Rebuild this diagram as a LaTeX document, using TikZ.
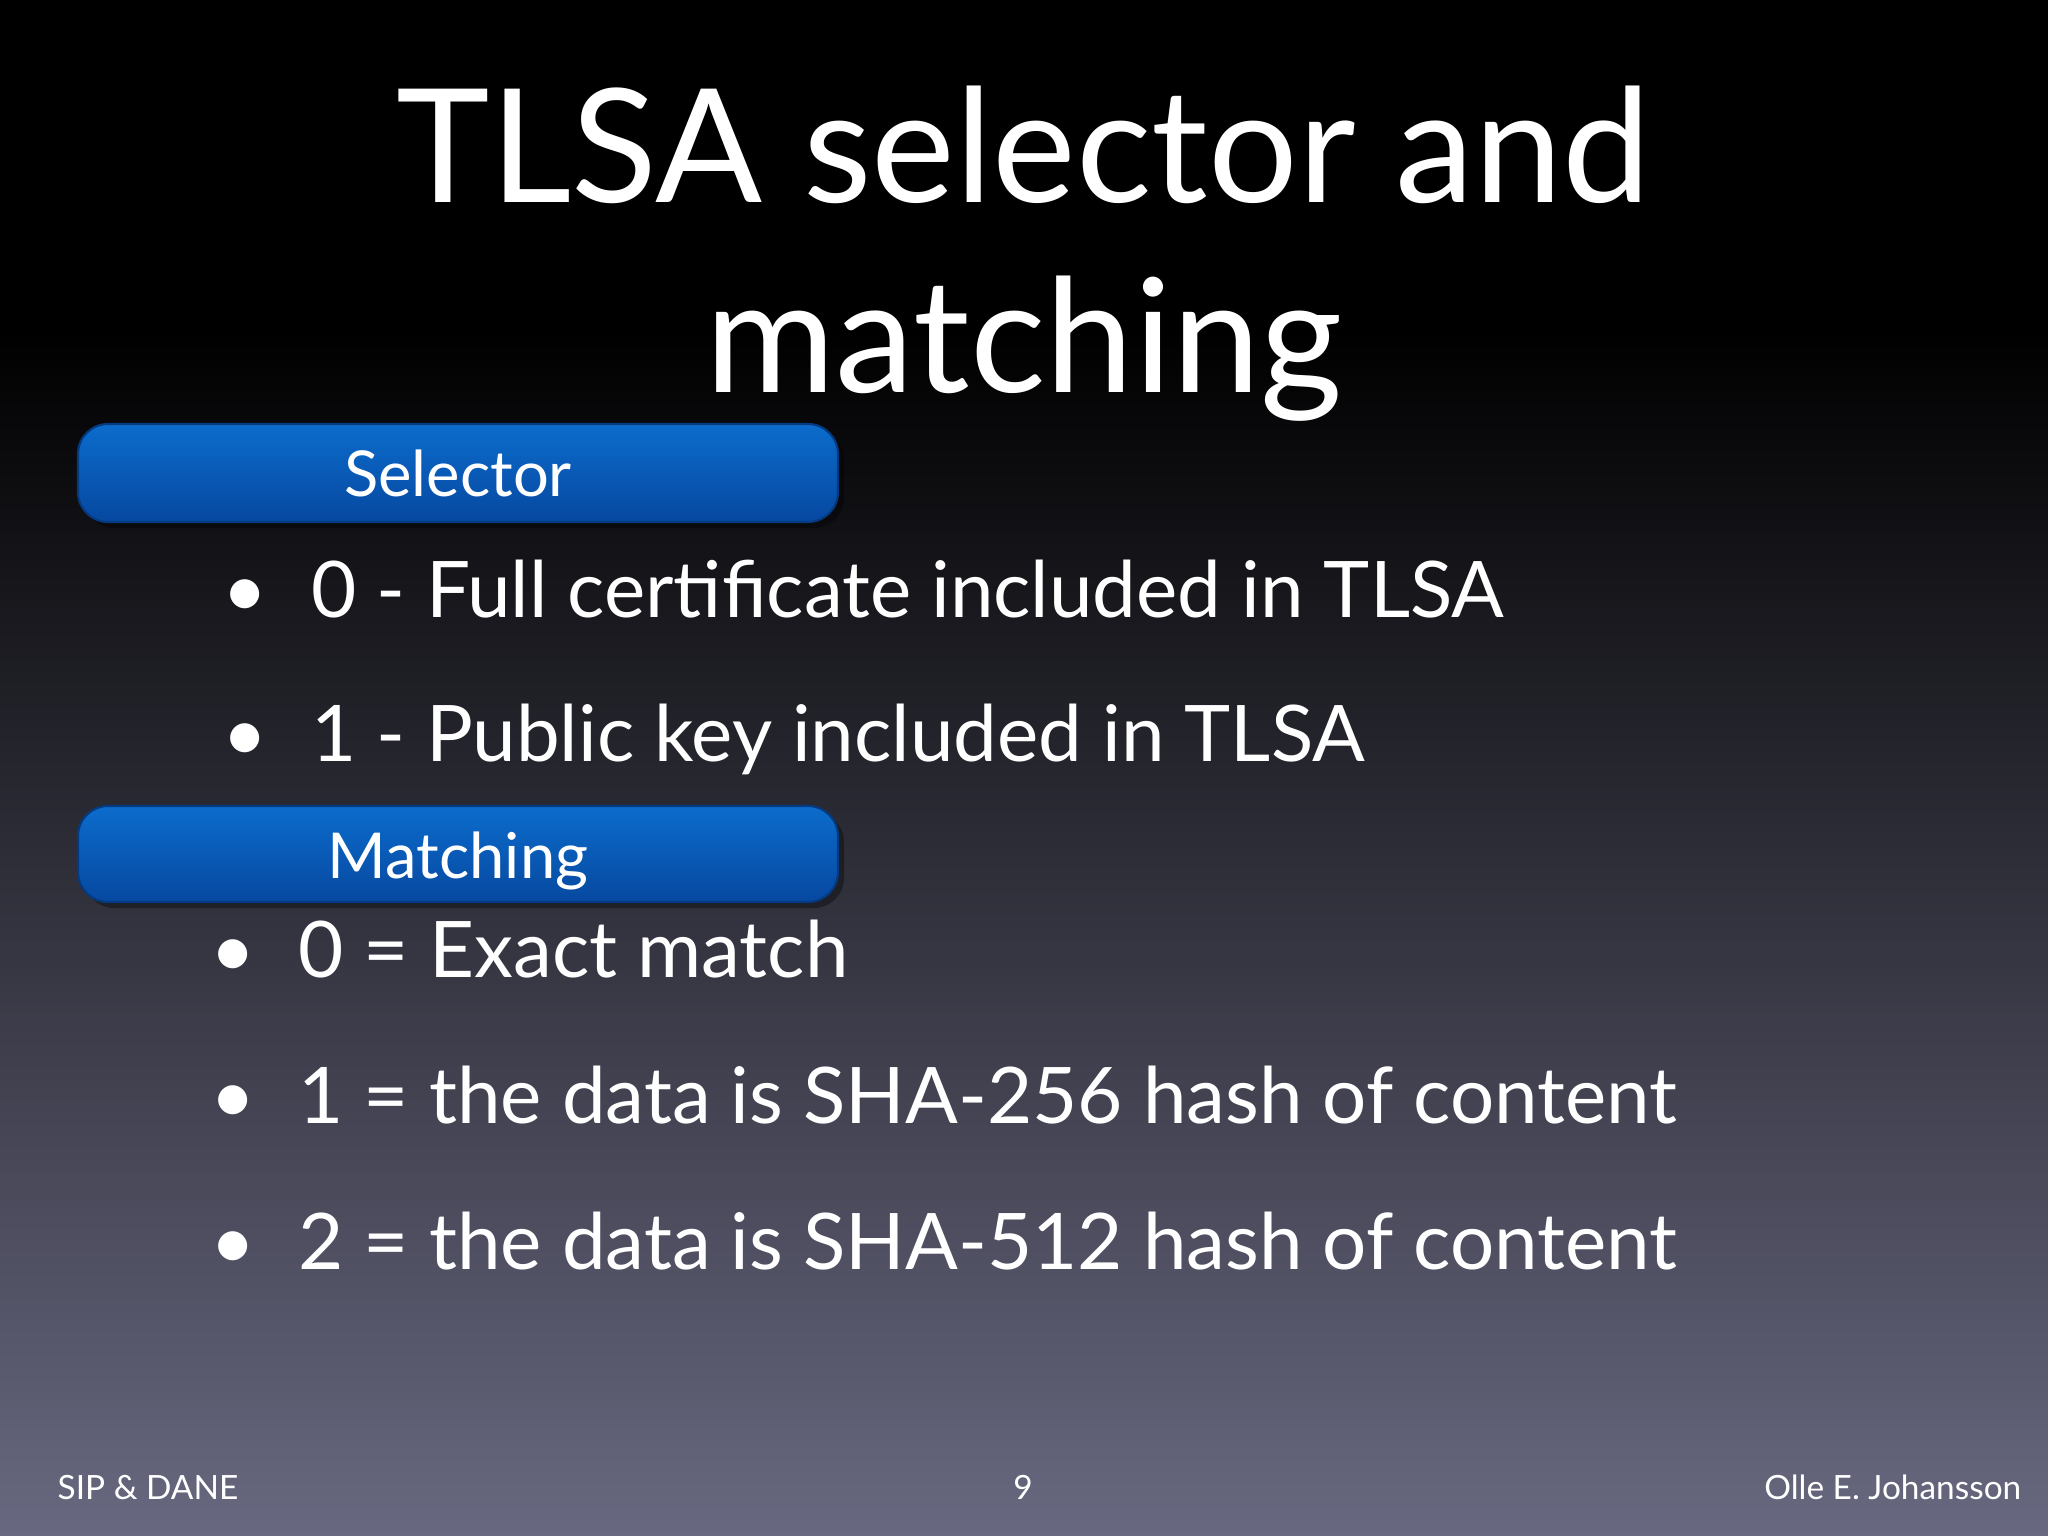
\documentclass[tikz,border=0pt]{standalone}
\usepackage{fontspec}
\setmainfont{Lato}
\definecolor{btop}{RGB}{12,108,204}
\definecolor{bbot}{RGB}{6,72,160}
\begin{document}
\begin{tikzpicture}[x=0.01cm,y=-0.01cm,
  txt/.style={text=white,inner sep=0pt,anchor=base west},
  bul/.style={txt,font=\fontsize{22.2}{26}\selectfont},
  hdr/.style={rounded corners=0.3cm,top color=btop,bottom color=bbot,draw=bbot!80!black,line width=0.6pt},
  foot/.style={text=white,inner sep=0pt,anchor=base,font=\fontsize{9.5}{11}\selectfont}]
\useasboundingbox (0,0) rectangle (2048,1536);
\fill[black] (0,0) rectangle (2048,330);
\shade[top color=black,bottom color={rgb,255:red,104;green,104;blue,128}] (0,329) rectangle (2048,1536);
\node[txt,anchor=base,font=\fontsize{45}{52}\selectfont] (t1) at (1024,202) {TLSA selector and};
\node[txt,anchor=base,font=\fontsize{45}{52}\selectfont] (t2) at (1024,392) {matching};
\fill[black,opacity=0.35,rounded corners=0.3cm] (84,430) rectangle (844,528);
\draw[hdr] (78,424) rectangle (838,522);
\node[txt,anchor=base,font=\fontsize{18}{22}\selectfont] (sel) at (458,496) {Selector};
\fill[black,opacity=0.35,rounded corners=0.3cm] (84,812) rectangle (844,908);
\draw[hdr] (78,806) rectangle (838,902);
\node[txt,anchor=base,font=\fontsize{18}{22}\selectfont] (mat) at (458,878) {Matching};
\node[bul] (b1) at (222,617) {•};
\node[bul] (s1) at (311,617) {0 - Full certificate included in TLSA};
\node[bul] (b2) at (222,761) {•};
\node[bul] (s2) at (311,761) {1 - Public key included in TLSA};
\node[bul] (b3) at (210,977) {•};
\node[bul] (m1) at (298,977) {0 = Exact match};
\node[bul] (b4) at (210,1123) {•};
\node[bul] (m2) at (298,1123) {1 = the data is SHA-256 hash of content};
\node[bul] (b5) at (210,1269) {•};
\node[bul] (m3) at (298,1269) {2 = the data is SHA-512 hash of content};
\node[foot,anchor=base west] (f1) at (57,1499) {SIP \& DANE};
\node[foot] (f2) at (1023,1499) {9};
\node[foot,anchor=base east] (f3) at (2022,1499) {Olle E. Johansson};
\end{tikzpicture}
\end{document}
